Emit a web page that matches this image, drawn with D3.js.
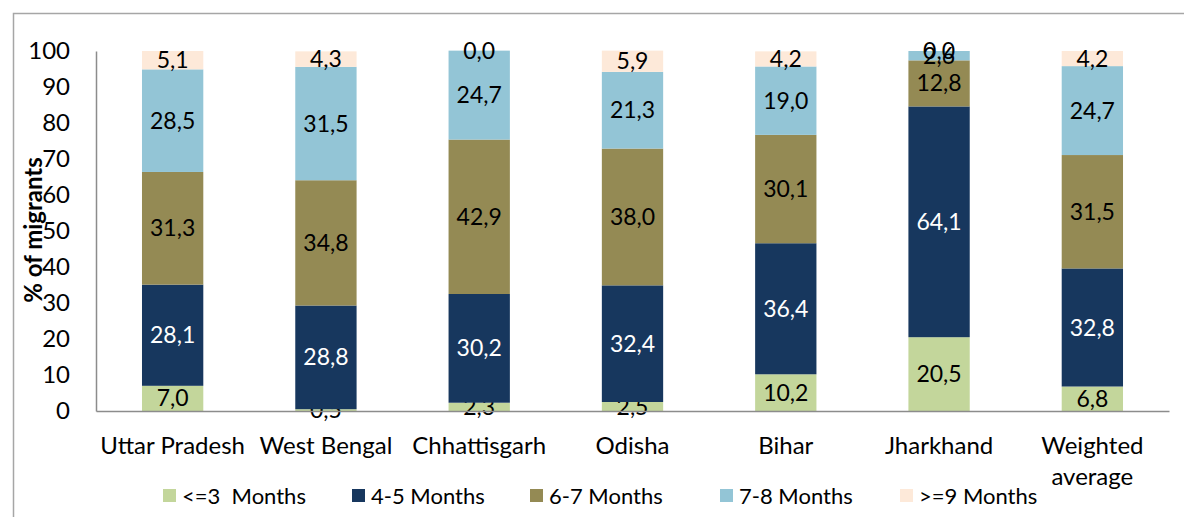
<!DOCTYPE html>
<meta charset="utf-8">
<script src="https://d3js.org/d3.v7.min.js"></script>
<style>
  body { margin: 0; background: #fff; }
  text { font-family: Lato, "Open Sans", sans-serif; }
</style>
<div id="chart"></div>
<script>
    // categories and series
    var states = ["Uttar Pradesh", "West Bengal", "Chhattisgarh", "Odisha", "Bihar", "Jharkhand", "Weighted average"];
    var groups = ["<=3  Months", "4-5 Months", "6-7 Months", "7-8 Months", ">=9 Months"];
    var upTo3   = [7.0, 0.5, 2.3, 2.5, 10.2, 20.5, 6.8];
    var m4to5   = [28.1, 28.8, 30.2, 32.4, 36.4, 64.1, 32.8];
    var m6to7   = [31.3, 34.8, 42.9, 38.0, 30.1, 12.8, 31.5];
    var m7to8   = [28.5, 31.5, 24.7, 21.3, 19.0, 2.6, 24.7];
    var from9   = [5.1, 4.3, 0.0, 5.9, 4.2, 0.0, 4.2];
    var yTicks  = [0, 10, 20, 30, 40, 50, 60, 70, 80, 90, 100];

    var colors = ["#c3d69b", "#17375e", "#948a54", "#93c5d6", "#fde9d9"];
    var series = [upTo3, m4to5, m6to7, m7to8, from9];

    var W = 1184, H = 517;
    var margin = {top: 51, left: 96, right: 15, bottom: 106};
    var fs = "23px";

    var svg = d3.select("#chart").append("svg")
        .attr("width", W).attr("height", H);

    // outer frame
    svg.append("rect")
        .attr("x", 13.5).attr("y", 13.5)
        .attr("width", W).attr("height", H)
        .attr("fill", "none").attr("stroke", "#a6a6a6").attr("stroke-width", 1.5);

    var x = d3.scaleBand()
        .domain(states)
        .range([margin.left, W - margin.right])
        .paddingInner(0.6).paddingOuter(0.3);

    var y = d3.scaleLinear()
        .domain([0, 100])
        .range([H - margin.bottom, margin.top]);

    // stack the rows
    var rows = states.map(function(s, i) {
        var r = {state: s};
        groups.forEach(function(g, k) { r[g] = series[k][i]; });
        return r;
    });
    var stacked = d3.stack().keys(groups)(rows);

    var layer = svg.append("g").selectAll("g")
        .data(stacked).enter().append("g")
        .attr("fill", function(d, k) { return colors[k]; });

    layer.selectAll("rect")
        .data(function(d) { return d; })
        .enter().append("rect")
        .attr("x", function(d) { return x(d.data.state); })
        .attr("width", x.bandwidth())
        .attr("y", function(d) { return y(d[1]); })
        .attr("height", function(d) { return y(d[0]) - y(d[1]); });

    // axes
    var yAxis = svg.append("g")
        .attr("transform", "translate(" + margin.left + ",0)")
        .call(d3.axisLeft(y).tickValues(yTicks).tickSize(0).tickPadding(26));
    yAxis.select(".domain").attr("stroke", "#8c8c8c").attr("stroke-width", 1.5);
    yAxis.selectAll("text").style("font-size", "24px").attr("fill", "#000")
        .style("font-family", "Lato, sans-serif");

    var xAxis = svg.append("g")
        .attr("transform", "translate(0," + y(0) + ")")
        .call(d3.axisBottom(x).tickSize(0).tickFormat(""));
    xAxis.select(".domain").attr("stroke", "#8c8c8c").attr("stroke-width", 1.5);

    // category labels (wrap on two lines if needed)
    states.forEach(function(s) {
        var lines = s === "Weighted average" ? ["Weighted", "average"] : [s];
        var t = svg.append("text")
            .attr("x", x(s) + x.bandwidth() / 2)
            .attr("y", 454)
            .attr("text-anchor", "middle")
            .style("font-size", "24px");
        lines.forEach(function(l, i) {
            t.append("tspan").attr("x", x(s) + x.bandwidth() / 2)
                .attr("dy", i === 0 ? 0 : 31).text(l);
        });
    });

    // y title
    svg.append("text")
        .attr("transform", "translate(42," + (y(50) - 1) + ") rotate(-90)")
        .attr("text-anchor", "middle")
        .style("font-size", "24px")
        .style("font-weight", "bold")
        .text("% of migrants");

    // value labels
    layer.selectAll("text")
        .data(function(d, k) { return d.map(function(p) { p.k = k; return p; }); })
        .enter().append("text")
        .attr("x", function(d) { return x(d.data.state) + x.bandwidth() / 2; })
        .attr("y", function(d) { return (y(d[0]) + y(d[1])) / 2; })
        .attr("dy", "0.35em")
        .attr("text-anchor", "middle")
        .attr("fill", function(d) { return d.k === 1 ? "#fff" : "#000"; })
        .style("font-size", fs)
        .text(function(d) { return (d[1] - d[0]).toFixed(1).replace(".", ","); });

    // legend
    var legendX = [163, 352, 530, 720, 900];
    var legend = svg.append("g").selectAll("g")
        .data(groups).enter().append("g")
        .attr("transform", function(d, k) { return "translate(" + legendX[k] + ",489)"; });
    legend.append("rect")
        .attr("width", 13).attr("height", 13)
        .attr("fill", function(d, k) { return colors[k]; });
    legend.append("text")
        .attr("x", 19).attr("y", 7).attr("dy", "0.35em")
        .style("font-size", "22px")
        .style("white-space", "pre")
        .text(function(d) { return d; });
</script>
